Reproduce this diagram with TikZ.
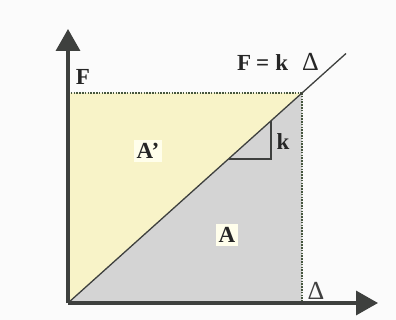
\documentclass[tikz,border=0pt]{standalone}
\usepackage{fontspec}
\setmainfont{Liberation Serif}
\usetikzlibrary{arrows.meta}
\definecolor{paleyellow}{RGB}{248,243,200}
\definecolor{areagray}{RGB}{212,212,212}
\definecolor{axisgray}{RGB}{62,64,62}
\definecolor{dotgreen}{RGB}{70,86,62}
\tikzset{
  axis/.style={line width=3.4pt, draw=axisgray, -{Triangle[length=22pt,width=24pt]}},
  guide/.style={line width=1.3pt, draw=dotgreen, dash pattern=on 1.6pt off 1.2pt},
  curve/.style={line width=1.3pt, draw=axisgray},
  lbl/.style={font=\fontsize{23}{25}\selectfont\bfseries, text=black!85, inner sep=1pt},
  boxlbl/.style={lbl, fill=white!92!yellow, inner sep=3pt},
  greek/.style={font=\fontsize{26}{28}\selectfont, text=black!75, inner sep=1pt}
}
\begin{document}
\begin{tikzpicture}[x=1pt,y=-1pt]
\useasboundingbox (0,0) rectangle (396,320);
\fill[white!97!gray] (0,0) rectangle (396,320);
\coordinate (O) at (68,303);
\coordinate (P) at (302,93);
\coordinate (Fy) at (68,93);
\coordinate (Dx) at (302,303);
\coordinate (Ytip) at (68,29);
\coordinate (Xtip) at (378,303);
\coordinate (Lend) at (346,53.5);
\coordinate (T1) at (229,159);
\coordinate (T2) at (271,159);
\coordinate (T3) at (271,121);
% areas
\fill[paleyellow] (O) -- (Fy) -- (P) -- cycle;
\fill[areagray] (O) -- (P) -- (Dx) -- cycle;
% guides
\draw[guide] (Fy) -- (P);
\draw[guide] (P) -- (Dx);
% line
\draw[curve] (O) -- (Lend);
% slope triangle
\draw[line width=1.3pt, draw=axisgray] (T1) -- (T2) -- (T3);
% axes
\draw[axis] (O) -- (Ytip);
\draw[axis] (O) -- (Xtip);
% labels
\node[lbl] (lF) at (83,77) {F};
\node[lbl] (lEq) at (278,62) {F\hspace{5pt}=\hspace{6pt}k\hspace{14pt}{\fontsize{26}{28}\selectfont\mdseries Δ}};
\node[lbl] (lk) at (283,142) {k};
\node[boxlbl] (lAp) at (148,151) {A'};
\node[boxlbl] (lA) at (227,235) {A};
\node[greek] (lD) at (316,291) {Δ};
\end{tikzpicture}
\end{document}
